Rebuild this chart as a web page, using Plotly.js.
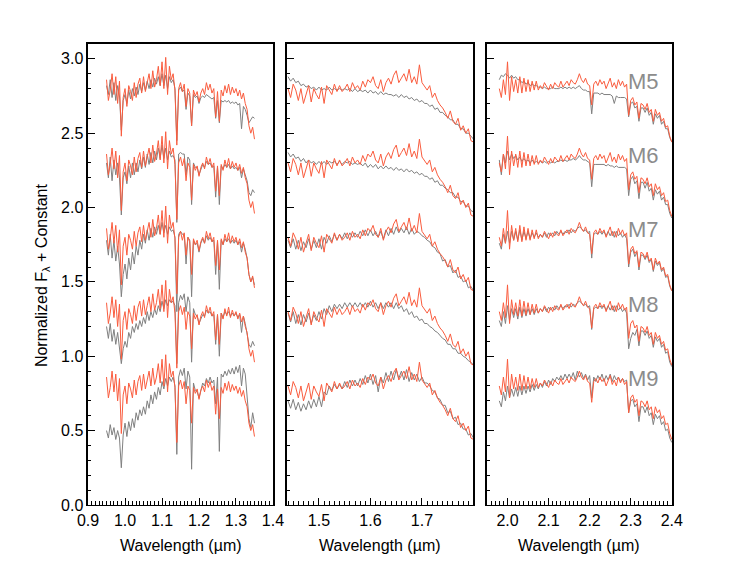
<!DOCTYPE html>
<html><head><meta charset="utf-8">
<script src="https://cdn.plot.ly/plotly-3.0.1.min.js"></script>
<style>body{margin:0;padding:0;background:#fff}</style>
</head><body><div id="chart" style="width:747px;height:578px"></div>
<script>
// Spectral types of the comparison templates and the constant added to each row
const spectralTypes = ['M5','M6','M7','M8','M9'];
const offsets = [2.0, 1.5, 1.0, 0.5, 0.0];

// ---- J band (panel 1) ----
const wavelengthJ = [0.95,0.955,0.96,0.965,0.97,0.975,0.98,0.985,0.99,0.995,
1.0,1.005,1.01,1.015,1.02,1.025,1.03,1.035,1.04,1.045,
1.05,1.055,1.06,1.065,1.07,1.075,1.08,1.085,1.09,1.095,
1.1,1.105,1.11,1.115,1.12,1.125,1.13,1.135,1.14,1.145,
1.15,1.155,1.16,1.165,1.17,1.175,1.18,1.185,1.19,1.195,
1.2,1.205,1.21,1.215,1.22,1.225,1.23,1.235,1.24,1.245,
1.25,1.255,1.26,1.265,1.27,1.275,1.28,1.285,1.29,1.295,
1.3,1.305,1.31,1.315,1.32,1.325,1.33,1.335,1.34,1.345,
1.35];
const objectJ = [0.86,0.72,0.79,0.90,0.76,0.88,0.70,0.85,0.48,0.74,
0.80,0.68,0.82,0.78,0.72,0.84,0.74,0.83,0.87,0.77,
0.88,0.78,0.84,0.90,0.80,0.92,0.81,0.86,0.95,0.82,
0.98,0.80,1.01,0.76,0.95,0.86,0.90,0.79,0.42,0.80,
0.84,0.78,0.83,0.68,0.80,0.77,0.55,0.79,0.75,0.78,
0.71,0.77,0.80,0.76,0.84,0.79,0.83,0.77,0.80,0.61,
0.78,0.58,0.79,0.75,0.82,0.77,0.83,0.76,0.81,0.77,
0.80,0.75,0.79,0.73,0.77,0.70,0.66,0.55,0.50,0.54,
0.46];
const templateJ_M5 = [0.82,0.76,0.86,0.74,0.84,0.72,0.82,0.75,0.52,0.72,
0.76,0.70,0.79,0.73,0.80,0.75,0.81,0.76,0.83,0.78,
0.84,0.79,0.85,0.80,0.86,0.81,0.87,0.83,0.88,0.82,
0.90,0.82,0.89,0.80,0.88,0.84,0.86,0.80,0.45,0.79,
0.81,0.78,0.79,0.66,0.77,0.75,0.55,0.76,0.74,0.75,
0.70,0.74,0.75,0.74,0.76,0.75,0.74,0.73,0.74,0.60,
0.72,0.57,0.72,0.71,0.72,0.71,0.72,0.70,0.71,0.70,
0.71,0.69,0.70,0.53,0.68,0.66,0.62,0.57,0.59,0.61,
0.60];
const templateJ_M6 = [0.80,0.70,0.84,0.68,0.82,0.72,0.80,0.70,0.45,0.70,
0.74,0.66,0.78,0.70,0.80,0.72,0.80,0.74,0.82,0.76,
0.84,0.77,0.86,0.79,0.87,0.80,0.88,0.82,0.90,0.83,
0.92,0.83,0.90,0.82,0.88,0.84,0.85,0.82,0.40,0.86,
0.87,0.86,0.86,0.72,0.84,0.82,0.52,0.80,0.77,0.77,
0.72,0.76,0.79,0.77,0.81,0.79,0.80,0.77,0.78,0.57,
0.77,0.52,0.78,0.76,0.79,0.77,0.79,0.76,0.78,0.76,
0.77,0.75,0.77,0.70,0.76,0.72,0.68,0.60,0.58,0.62,
0.60];
const templateJ_M7 = [0.78,0.68,0.82,0.66,0.78,0.64,0.74,0.62,0.40,0.55,
0.62,0.52,0.66,0.58,0.70,0.62,0.74,0.68,0.78,0.72,
0.82,0.76,0.85,0.78,0.86,0.80,0.87,0.82,0.88,0.82,
0.90,0.83,0.88,0.82,0.87,0.84,0.85,0.80,0.30,0.82,
0.84,0.82,0.82,0.62,0.80,0.78,0.40,0.78,0.75,0.76,
0.70,0.76,0.79,0.76,0.81,0.78,0.80,0.77,0.78,0.55,
0.77,0.45,0.78,0.75,0.79,0.77,0.79,0.76,0.78,0.76,
0.78,0.75,0.77,0.70,0.76,0.72,0.66,0.55,0.50,0.53,
0.48];
const templateJ_M8 = [0.70,0.62,0.72,0.60,0.68,0.58,0.66,0.56,0.45,0.55,
0.60,0.56,0.66,0.62,0.70,0.66,0.72,0.68,0.74,0.70,
0.76,0.72,0.80,0.74,0.80,0.76,0.82,0.78,0.84,0.80,
0.87,0.82,0.88,0.84,0.88,0.86,0.87,0.84,0.45,0.86,
0.91,0.88,0.92,0.80,0.90,0.86,0.46,0.82,0.78,0.77,
0.72,0.75,0.78,0.77,0.81,0.79,0.80,0.77,0.78,0.58,
0.78,0.50,0.79,0.76,0.80,0.78,0.80,0.77,0.79,0.77,
0.79,0.76,0.78,0.66,0.77,0.72,0.66,0.58,0.56,0.60,
0.57];
const templateJ_M9 = [0.50,0.45,0.54,0.47,0.52,0.44,0.50,0.45,0.25,0.47,
0.55,0.46,0.56,0.50,0.58,0.52,0.62,0.57,0.64,0.60,
0.66,0.61,0.70,0.65,0.74,0.68,0.76,0.71,0.79,0.74,
0.83,0.78,0.85,0.80,0.86,0.83,0.86,0.80,0.34,0.86,
0.91,0.87,0.92,0.78,0.90,0.86,0.24,0.82,0.77,0.76,
0.72,0.78,0.82,0.80,0.85,0.82,0.86,0.82,0.84,0.68,
0.86,0.36,0.88,0.86,0.90,0.87,0.91,0.88,0.92,0.88,
0.93,0.89,0.94,0.80,0.92,0.88,0.75,0.58,0.52,0.62,
0.55];

// ---- H band (panel 2) ----
const wavelengthH = [1.44,1.445,1.45,1.455,1.46,1.465,1.47,1.475,1.48,1.485,
1.49,1.495,1.5,1.505,1.51,1.515,1.52,1.525,1.53,1.535,
1.54,1.545,1.55,1.555,1.56,1.565,1.57,1.575,1.58,1.585,
1.59,1.595,1.6,1.605,1.61,1.615,1.62,1.625,1.63,1.635,
1.64,1.645,1.65,1.655,1.66,1.665,1.67,1.675,1.68,1.685,
1.69,1.695,1.7,1.705,1.71,1.715,1.72,1.725,1.73,1.735,
1.74,1.745,1.75,1.755,1.76,1.765,1.77,1.775,1.78,1.785,
1.79,1.795,1.8];
const objectH = [0.80,0.74,0.83,0.79,0.72,0.80,0.70,0.77,0.82,0.71,
0.80,0.76,0.73,0.81,0.70,0.82,0.79,0.76,0.83,0.78,
0.82,0.78,0.80,0.83,0.78,0.84,0.80,0.82,0.79,0.85,
0.81,0.86,0.84,0.88,0.82,0.80,0.86,0.78,0.84,0.87,
0.83,0.89,0.92,0.84,0.87,0.90,0.85,0.93,0.84,0.88,
0.83,0.96,0.84,0.81,0.79,0.82,0.74,0.77,0.72,0.69,
0.67,0.64,0.60,0.65,0.58,0.56,0.60,0.52,0.55,0.50,
0.53,0.45,0.44];
const templateH_M5 = [0.88,0.85,0.87,0.84,0.85,0.82,0.83,0.81,0.82,0.80,
0.81,0.79,0.81,0.79,0.80,0.79,0.81,0.79,0.80,0.79,
0.80,0.79,0.80,0.79,0.80,0.78,0.80,0.78,0.79,0.78,
0.79,0.77,0.79,0.77,0.78,0.76,0.78,0.76,0.77,0.76,
0.76,0.75,0.76,0.74,0.76,0.74,0.75,0.73,0.74,0.72,
0.73,0.71,0.72,0.70,0.70,0.68,0.69,0.66,0.67,0.64,
0.64,0.62,0.61,0.59,0.59,0.56,0.56,0.53,0.53,0.50,
0.50,0.48,0.46];
const templateH_M6 = [0.87,0.84,0.86,0.83,0.84,0.81,0.83,0.80,0.82,0.80,
0.81,0.79,0.81,0.79,0.81,0.79,0.81,0.80,0.81,0.79,
0.81,0.79,0.81,0.80,0.81,0.79,0.80,0.79,0.80,0.78,
0.80,0.77,0.79,0.77,0.79,0.76,0.78,0.76,0.78,0.76,
0.77,0.75,0.77,0.75,0.76,0.74,0.76,0.74,0.75,0.73,
0.74,0.72,0.73,0.71,0.71,0.69,0.70,0.67,0.68,0.65,
0.65,0.63,0.62,0.60,0.60,0.57,0.57,0.54,0.54,0.51,
0.51,0.48,0.47];
const templateH_M7 = [0.78,0.73,0.79,0.72,0.78,0.71,0.77,0.73,0.79,0.72,
0.78,0.73,0.79,0.72,0.80,0.76,0.81,0.77,0.82,0.78,
0.82,0.79,0.83,0.79,0.83,0.80,0.83,0.80,0.84,0.81,
0.85,0.81,0.85,0.81,0.84,0.80,0.84,0.79,0.85,0.81,
0.86,0.82,0.87,0.83,0.86,0.83,0.87,0.82,0.86,0.82,
0.84,0.83,0.81,0.80,0.78,0.77,0.74,0.73,0.70,0.69,
0.64,0.65,0.60,0.61,0.56,0.58,0.53,0.54,0.50,0.51,
0.46,0.47,0.44];
const templateH_M8 = [0.79,0.73,0.80,0.72,0.78,0.71,0.78,0.73,0.79,0.72,
0.78,0.74,0.80,0.75,0.82,0.78,0.84,0.80,0.85,0.82,
0.85,0.82,0.86,0.83,0.86,0.83,0.86,0.83,0.86,0.83,
0.86,0.83,0.87,0.83,0.86,0.82,0.86,0.82,0.86,0.83,
0.86,0.82,0.86,0.82,0.84,0.80,0.82,0.78,0.80,0.76,
0.77,0.74,0.75,0.72,0.72,0.70,0.69,0.67,0.66,0.64,
0.62,0.61,0.58,0.58,0.55,0.55,0.52,0.52,0.50,0.49,
0.47,0.46,0.44];
const templateH_M9 = [0.70,0.65,0.71,0.64,0.69,0.63,0.68,0.64,0.70,0.65,
0.71,0.66,0.73,0.66,0.76,0.74,0.80,0.77,0.81,0.78,
0.81,0.78,0.83,0.79,0.84,0.80,0.84,0.80,0.85,0.81,
0.87,0.82,0.88,0.81,0.87,0.76,0.86,0.82,0.89,0.83,
0.90,0.84,0.91,0.85,0.90,0.84,0.91,0.83,0.89,0.84,
0.88,0.83,0.86,0.82,0.82,0.80,0.77,0.76,0.72,0.71,
0.67,0.67,0.62,0.63,0.58,0.59,0.54,0.55,0.51,0.51,
0.47,0.48,0.45];

// ---- K band (panel 3) ----
const wavelengthK = [1.98,1.985,1.99,1.995,2.0,2.005,2.01,2.015,2.02,2.025,
2.03,2.035,2.04,2.045,2.05,2.055,2.06,2.065,2.07,2.075,
2.08,2.085,2.09,2.095,2.1,2.105,2.11,2.115,2.12,2.125,
2.13,2.135,2.14,2.145,2.15,2.155,2.16,2.165,2.17,2.175,
2.18,2.185,2.19,2.195,2.2,2.205,2.21,2.215,2.22,2.225,
2.23,2.235,2.24,2.245,2.25,2.255,2.26,2.265,2.27,2.275,
2.28,2.285,2.29,2.295,2.3,2.305,2.31,2.315,2.32,2.325,
2.33,2.335,2.34,2.345,2.35,2.355,2.36,2.365,2.37,2.375,
2.38,2.385,2.39,2.395,2.4];
const objectK = [0.80,0.74,0.86,0.76,0.98,0.72,0.88,0.78,0.86,0.77,
0.88,0.77,0.87,0.78,0.86,0.78,0.85,0.79,0.85,0.79,
0.82,0.80,0.84,0.81,0.79,0.83,0.80,0.84,0.82,0.81,
0.85,0.81,0.83,0.85,0.82,0.86,0.84,0.83,0.86,0.90,
0.86,0.84,0.87,0.83,0.82,0.69,0.83,0.85,0.82,0.86,
0.83,0.85,0.80,0.84,0.87,0.81,0.84,0.80,0.86,0.82,
0.85,0.81,0.83,0.62,0.72,0.74,0.69,0.71,0.60,0.70,
0.69,0.66,0.70,0.64,0.66,0.58,0.66,0.62,0.64,0.58,
0.60,0.54,0.55,0.48,0.44];
const templateK_M5 = [0.86,0.89,0.88,0.90,0.89,0.87,0.89,0.87,0.88,0.86,
0.86,0.84,0.85,0.83,0.84,0.82,0.83,0.82,0.82,0.81,
0.81,0.80,0.81,0.80,0.80,0.80,0.81,0.80,0.80,0.80,
0.81,0.80,0.81,0.80,0.81,0.80,0.81,0.80,0.81,0.82,
0.80,0.79,0.79,0.78,0.78,0.63,0.77,0.77,0.77,0.76,
0.77,0.76,0.76,0.76,0.76,0.75,0.70,0.75,0.74,0.74,
0.74,0.74,0.73,0.61,0.70,0.71,0.67,0.68,0.58,0.67,
0.67,0.64,0.67,0.62,0.64,0.56,0.63,0.60,0.62,0.56,
0.58,0.53,0.53,0.47,0.44];
const templateK_M6 = [0.82,0.72,0.86,0.80,0.88,0.82,0.86,0.83,0.85,0.82,
0.84,0.81,0.83,0.81,0.82,0.80,0.82,0.80,0.81,0.80,
0.81,0.80,0.81,0.80,0.81,0.80,0.81,0.80,0.81,0.81,
0.82,0.81,0.82,0.81,0.82,0.82,0.83,0.82,0.83,0.85,
0.83,0.82,0.82,0.81,0.80,0.64,0.79,0.79,0.79,0.79,
0.79,0.79,0.78,0.79,0.78,0.78,0.77,0.78,0.77,0.77,
0.77,0.77,0.76,0.58,0.69,0.71,0.66,0.68,0.56,0.67,
0.67,0.63,0.67,0.61,0.63,0.55,0.62,0.59,0.61,0.55,
0.57,0.52,0.52,0.46,0.43];
const templateK_M7 = [0.76,0.72,0.82,0.76,0.84,0.76,0.84,0.78,0.84,0.78,
0.85,0.78,0.84,0.79,0.84,0.79,0.83,0.80,0.83,0.80,
0.82,0.80,0.83,0.80,0.83,0.81,0.83,0.81,0.84,0.82,
0.84,0.82,0.84,0.83,0.85,0.83,0.85,0.84,0.86,0.87,
0.86,0.84,0.85,0.83,0.84,0.66,0.82,0.83,0.82,0.84,
0.82,0.84,0.81,0.84,0.81,0.84,0.80,0.84,0.81,0.83,
0.80,0.82,0.79,0.60,0.70,0.72,0.67,0.70,0.58,0.68,
0.68,0.65,0.68,0.63,0.65,0.57,0.64,0.61,0.63,0.57,
0.59,0.53,0.54,0.47,0.44];
const templateK_M8 = [0.74,0.70,0.80,0.72,0.84,0.74,0.82,0.76,0.82,0.75,
0.83,0.76,0.82,0.77,0.82,0.78,0.82,0.78,0.82,0.79,
0.82,0.80,0.83,0.80,0.83,0.81,0.83,0.81,0.84,0.82,
0.84,0.82,0.84,0.83,0.85,0.83,0.85,0.84,0.86,0.87,
0.86,0.84,0.85,0.83,0.84,0.68,0.82,0.83,0.82,0.84,
0.82,0.84,0.81,0.84,0.81,0.84,0.80,0.84,0.81,0.83,
0.80,0.82,0.79,0.55,0.62,0.66,0.64,0.68,0.57,0.67,
0.67,0.64,0.67,0.62,0.64,0.56,0.63,0.60,0.62,0.56,
0.58,0.52,0.53,0.46,0.43];
const templateK_M9 = [0.70,0.66,0.76,0.70,0.80,0.72,0.78,0.73,0.79,0.73,
0.80,0.74,0.80,0.75,0.80,0.76,0.81,0.77,0.81,0.78,
0.82,0.79,0.83,0.80,0.84,0.81,0.85,0.83,0.86,0.84,
0.87,0.84,0.88,0.85,0.88,0.85,0.89,0.84,0.90,0.86,
0.89,0.85,0.88,0.84,0.87,0.72,0.86,0.83,0.87,0.84,
0.88,0.83,0.87,0.84,0.88,0.83,0.87,0.84,0.86,0.83,
0.85,0.83,0.84,0.62,0.70,0.71,0.66,0.68,0.56,0.66,
0.66,0.62,0.66,0.60,0.62,0.54,0.61,0.58,0.60,0.54,
0.56,0.50,0.51,0.45,0.42];

const panels = [
  {x: wavelengthJ, obj: objectJ, tpl: [templateJ_M5, templateJ_M6, templateJ_M7, templateJ_M8, templateJ_M9], xa: 'x', ya: 'y'},
  {x: wavelengthH, obj: objectH, tpl: [templateH_M5, templateH_M6, templateH_M7, templateH_M8, templateH_M9], xa: 'x2', ya: 'y2'},
  {x: wavelengthK, obj: objectK, tpl: [templateK_M5, templateK_M6, templateK_M7, templateK_M8, templateK_M9], xa: 'x3', ya: 'y3'}
];

const GRAY = 'rgb(128,128,128)';
const RED = 'rgb(250,92,62)';
const traces = [];
panels.forEach(p => {
  spectralTypes.forEach((t, k) => {
    traces.push({type: 'scatter', mode: 'lines', x: p.x, y: p.tpl[k].map(v => v + offsets[k]),
      xaxis: p.xa, yaxis: p.ya, line: {color: GRAY, width: 1}, hoverinfo: 'skip', showlegend: false});
  });
  spectralTypes.forEach((t, k) => {
    traces.push({type: 'scatter', mode: 'lines', x: p.x, y: p.obj.map(v => v + offsets[k]),
      xaxis: p.xa, yaxis: p.ya, line: {color: RED, width: 1}, hoverinfo: 'skip', showlegend: false});
  });
});

const FONT = 'Liberation Sans, Arial, Helvetica, sans-serif';
const minorBase = {ticks: 'inside', ticklen: 3.5, tickcolor: 'black', tickwidth: 1, showgrid: false};
const axisBase = {
  ticks: 'inside', mirror: true, showline: true, linecolor: 'black', linewidth: 1.5,
  tickcolor: 'black', ticklen: 7, tickwidth: 1, showgrid: false, zeroline: false,
  tickfont: {family: FONT, size: 16, color: 'black'}, tickformat: '.1f'
};
const xDomains = [[0.1178, 0.3655], [0.3842, 0.6332], [0.6519, 0.8996]];
const xRanges = [[0.8999, 1.4001], [1.438, 1.799], [1.95, 2.4005]];
const yDomain = [0.1263, 0.9239];
const yRange = [-0.0005, 3.1];

const layout = {
  width: 747, height: 578, margin: {l: 0, r: 0, t: 0, b: 0},
  paper_bgcolor: 'white', plot_bgcolor: 'white', showlegend: false
};
// main axes (bottom / left) and tick-only overlay axes (top / right)
for (let i = 0; i < 3; i++) {
  const n = i + 1, xs = n === 1 ? '' : String(n), ys = xs;
  layout['xaxis' + xs] = Object.assign({}, axisBase, {domain: xDomains[i], range: xRanges[i], anchor: 'y' + ys,
    tickmode: 'linear', tick0: 0, dtick: 0.1, minor: Object.assign({}, minorBase, {dtick: 0.01, tick0: 0})});
  layout['yaxis' + ys] = Object.assign({}, axisBase, {domain: yDomain, range: yRange, anchor: 'x' + xs,
    tickmode: 'linear', tick0: 0, dtick: 0.5, showticklabels: i === 0,
    minor: Object.assign({}, minorBase, {dtick: 0.1, tick0: 0})});
  const xt = String(n + 3), yt = String(n + 3);
  layout['xaxis' + xt] = {overlaying: 'x' + xs, side: 'top', anchor: 'y' + ys, range: xRanges[i],
    showline: false, showgrid: false, zeroline: false, showticklabels: false,
    ticks: 'inside', ticklen: 7, tickwidth: 1, tickcolor: 'black', tickmode: 'linear', tick0: 0, dtick: 0.1,
    minor: Object.assign({}, minorBase, {dtick: 0.01, tick0: 0})};
  layout['yaxis' + yt] = {overlaying: 'y' + ys, side: 'right', anchor: 'x' + xs, range: yRange,
    showline: false, showgrid: false, zeroline: false, showticklabels: false,
    ticks: 'inside', ticklen: 7, tickwidth: 1, tickcolor: 'black', tickmode: 'linear', tick0: 0, dtick: 0.5,
    minor: Object.assign({}, minorBase, {dtick: 0.1, tick0: 0})};
}

const annotations = [];
xDomains.forEach(d => {
  annotations.push({xref: 'paper', yref: 'paper', x: (d[0] + d[1]) / 2, y: 0.0554, text: 'Wavelength (µm)',
    showarrow: false, xanchor: 'center', yanchor: 'middle', font: {family: FONT, size: 16, color: 'black'}});
});
annotations.push({xref: 'paper', yref: 'paper', x: 0.0562, y: 0.524, textangle: -90,
  text: 'Normalized F<sub>λ</sub> + Constant', showarrow: false, xanchor: 'center', yanchor: 'middle',
  font: {family: FONT, size: 16, color: 'black'}});
spectralTypes.forEach((t, k) => {
  annotations.push({xref: 'x3', yref: 'y3', x: 2.332, y: offsets[k] + 0.85, text: t, showarrow: false,
    xanchor: 'center', yanchor: 'middle', font: {family: FONT, size: 22, color: 'rgb(140,140,140)'}});
});
layout.annotations = annotations;

Plotly.newPlot('chart', traces, layout, {displayModeBar: false, staticPlot: true});
</script>
</body></html>
